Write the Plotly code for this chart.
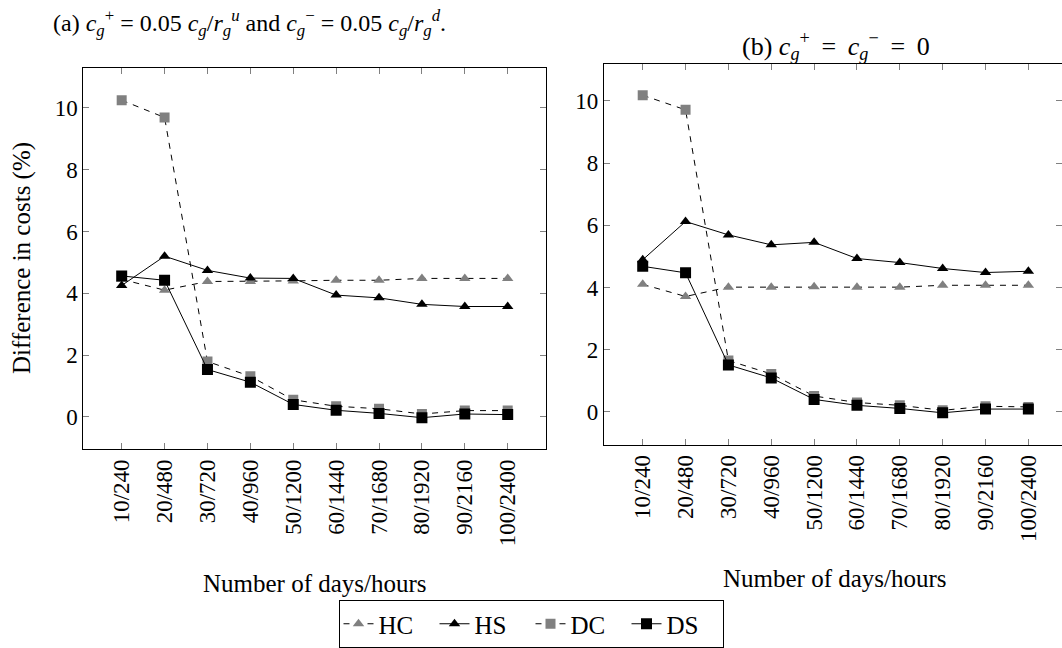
import plotly.graph_objects as go

categories = ["10/240", "20/480", "30/720", "40/960", "50/1200",
              "60/1440", "70/1680", "80/1920", "90/2160", "100/2400"]

# Panel (a)
hc_a = [4.45, 4.10, 4.38, 4.38, 4.40, 4.42, 4.42, 4.48, 4.48, 4.48]
hs_a = [4.25, 5.20, 4.74, 4.49, 4.48, 3.94, 3.85, 3.64, 3.57, 3.57]
dc_a = [10.25, 9.69, 1.79, 1.31, 0.55, 0.34, 0.26, 0.09, 0.20, 0.20]
ds_a = [4.56, 4.42, 1.53, 1.12, 0.40, 0.21, 0.11, -0.03, 0.09, 0.07]

# Panel (b)
hc_b = [4.10, 3.71, 4.01, 4.01, 4.02, 4.01, 4.01, 4.07, 4.07, 4.07]
hs_b = [4.89, 6.12, 5.69, 5.37, 5.45, 4.93, 4.80, 4.61, 4.48, 4.52]
dc_b = [10.18, 9.71, 1.65, 1.22, 0.51, 0.30, 0.21, 0.05, 0.18, 0.16]
ds_b = [4.68, 4.47, 1.51, 1.09, 0.40, 0.21, 0.11, -0.03, 0.09, 0.09]

yticks = [0, 2, 4, 6, 8, 10]

W, H = 1062, 648
FONT = "Liberation Serif, 'DejaVu Serif', 'Times New Roman', serif"
GRAY = "#808080"
DASH = "6px,6px"

x = list(range(1, len(categories) + 1))

fig = go.Figure()

def add_panel(hc, hs, dc, ds, xa, ya, show):
    specs = [
        ("HC", hc, DASH, "triangle-up", GRAY, 10),
        ("HS", hs, "solid", "triangle-up", "black", 10),
        ("DC", dc, DASH, "square", GRAY, 10),
        ("DS", ds, "solid", "square", "black", 11),
    ]
    for name, vals, dash, sym, col, sz in specs:
        fig.add_trace(go.Scatter(
            x=x, y=vals, name=name, mode="lines+markers",
            line=dict(color="black", width=1, dash=dash),
            marker=dict(symbol=sym, size=sz, color=col, line=dict(width=0)),
            xaxis=xa, yaxis=ya, showlegend=show, legendgroup=name,
        ))

add_panel(hc_a, hs_a, dc_a, ds_a, "x", "y", True)
add_panel(hc_b, hs_b, dc_b, ds_b, "x2", "y2", False)

def px(v):
    return v / W

def py(v):
    return 1 - v / H

axis_common = dict(
    showline=True, linecolor="black", linewidth=1, mirror="ticks",
    ticks="inside", ticklen=6, tickwidth=1, tickcolor=GRAY,
    showgrid=False, zeroline=False,
    tickfont=dict(family=FONT, size=23, color="black"),
)

fig.update_layout(
    width=W, height=H,
    margin=dict(l=0, r=0, t=0, b=0),
    paper_bgcolor="white", plot_bgcolor="white",
    font=dict(family=FONT, color="black"),
    xaxis=dict(domain=[px(83.3), px(546)], range=[0.105, 10.893],
               tickvals=x, ticktext=categories, tickangle=-90,
               anchor="y", **axis_common),
    yaxis=dict(domain=[py(452.7), py(68.3)], range=[-1.05, 11.3],
               tickvals=yticks, anchor="x", **axis_common),
    xaxis2=dict(domain=[px(603.8), 1.0], range=[0.092, 10.785],
                tickvals=x, ticktext=categories, tickangle=-90,
                anchor="y2", **axis_common),
    yaxis2=dict(domain=[py(448.3), py(64)], range=[-1.06, 11.2],
                tickvals=yticks, anchor="x2", **axis_common),
    legend=dict(
        orientation="h", x=0.5, xanchor="center", y=py(605), yanchor="top",
        bordercolor="black", borderwidth=1, bgcolor="white",
        font=dict(family=FONT, size=25, color="black"),
        itemwidth=30, tracegroupgap=0, entrywidth=51,
    ),
)

SP = "\u2009"
ann = [
    dict(x=px(249), y=py(23),
         text="(a) <i>c</i><sub><i>g</i></sub><sup>+</sup> = 0.05 <i>c</i><sub><i>g</i></sub>/<i>r</i><sub><i>g</i></sub><sup><i>u</i></sup> and "
              "<i>c</i><sub><i>g</i></sub><sup>−</sup> = 0.05 <i>c</i><sub><i>g</i></sub>/<i>r</i><sub><i>g</i></sub><sup><i>d</i></sup>.",
         size=24),
    dict(x=px(836), y=py(46),
         text=f"(b) <i>c</i><sub><i>g</i></sub><sup>+</sup>{SP} ={SP} <i>c</i><sub><i>g</i></sub><sup>−</sup>{SP} ={SP} 0",
         size=26),
    dict(x=px(315), y=py(588), text="Number of days/hours", size=25),
    dict(x=px(835), y=py(583), text="Number of days/hours", size=25),
]
for a in ann:
    fig.add_annotation(x=a["x"], y=a["y"], xref="paper", yref="paper",
                       text=a["text"], showarrow=False,
                       xanchor="center", yanchor="middle",
                       font=dict(family=FONT, size=a["size"], color="black"))

fig.add_annotation(x=px(22), y=py(260), xref="paper", yref="paper",
                   text="Difference in costs (%)", showarrow=False,
                   textangle=-90, xanchor="center", yanchor="middle",
                   font=dict(family=FONT, size=25, color="black"))

fig.write_html("out.html")
